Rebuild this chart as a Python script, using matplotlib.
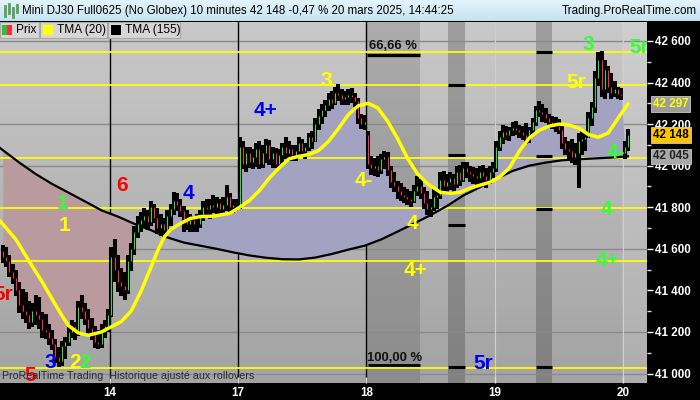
import numpy as np
import matplotlib
matplotlib.use("Agg")
import matplotlib.pyplot as plt
from matplotlib.colors import LinearSegmentedColormap
from matplotlib.patches import Rectangle

# ---------------- data (10-minute bars, 13 -> 20 March 2025) ----------------
highs = [41610, 41600, 41560, 41520, 41490, 41430, 41400, 41385, 41340, 41330, 41370, 41360, 41290, 41280, 41230, 41200, 41160, 41120, 41150, 41170, 41230, 41250, 41240, 41340, 41370, 41330, 41300, 41260, 41220, 41200, 41230, 41250, 41300,
         41600, 41640, 41560, 41500, 41480, 41560, 41620, 41700, 41750, 41770, 41790, 41780, 41820, 41810, 41790, 41760, 41740, 41780, 41810, 41865, 41860, 41830, 41800, 41780, 41760, 41750, 41760, 41780, 41820, 41830, 41830, 41850, 41840, 41830, 41840, 41900, 41860, 41830, 41830,
         42130, 42110, 42080, 42080, 42070, 42100, 42110, 42090, 42120, 42115, 42080, 42075, 42070, 42100, 42130, 42110, 42090, 42090, 42130, 42120, 42100, 42150, 42160, 42220, 42265, 42290, 42310, 42340, 42350, 42370, 42385, 42360, 42350, 42360, 42365, 42340, 42320, 42240, 42235,
         42160, 42040, 42030, 42040, 42050, 42065, 42060, 41990, 41960, 41920, 41910, 41890, 41880, 41870, 41900, 41940, 41930, 41890, 41870, 41830, 41880, 41870, 41960, 41965, 41950, 41960, 41950, 41990, 41995, 42010, 42010, 41990, 41985, 41980, 41990, 41995, 41980, 41990, 42010,
         42110, 42160, 42190, 42185, 42180, 42200, 42205, 42190, 42185, 42195, 42180, 42220, 42280, 42305, 42290, 42270, 42240, 42230, 42225, 42215, 42190, 42130, 42110, 42120, 42100, 42150, 42160, 42150, 42250, 42300, 42450, 42540, 42545, 42500, 42470, 42440, 42400, 42370, 42365,
         42110, 42170]
lows = [41540, 41520, 41470, 41440, 41380, 41300, 41270, 41250, 41220, 41230, 41240, 41220, 41180, 41175, 41145, 41120, 41060, 41040, 41045, 41080, 41140, 41180, 41170, 41190, 41270, 41240, 41200, 41170, 41130, 41125, 41130, 41180, 41210,
        41280, 41450, 41400, 41380, 41360, 41390, 41500, 41580, 41660, 41690, 41710, 41700, 41720, 41730, 41680, 41670, 41660, 41680, 41720, 41770, 41790, 41760, 41690, 41700, 41690, 41690, 41690, 41710, 41740, 41760, 41750, 41780, 41770, 41770, 41780, 41790, 41780, 41780, 41790,
        41800, 41990, 41980, 41995, 41990, 42000, 41990, 41995, 42020, 42010, 41995, 41995, 41995, 42020, 42040, 42030, 42030, 42030, 42050, 42050, 42040, 42080, 42090, 42120, 42180, 42210, 42240, 42270, 42280, 42300, 42320, 42300, 42300, 42300, 42310, 42290, 42210, 42185, 42180,
        41990, 41965, 41960, 41955, 41970, 41990, 41960, 41900, 41880, 41850, 41840, 41830, 41820, 41810, 41830, 41860, 41850, 41800, 41770, 41760, 41790, 41800, 41850, 41880, 41880, 41890, 41880, 41900, 41910, 41930, 41950, 41930, 41920, 41915, 41920, 41920, 41900, 41920, 41950,
        41980, 42080, 42110, 42130, 42125, 42150, 42155, 42140, 42130, 42110, 42115, 42160, 42200, 42240, 42220, 42215, 42190, 42185, 42170, 42160, 42090, 42060, 42040, 42020, 42010, 41900, 42060, 42080, 42140, 42200, 42260, 42390, 42340, 42330, 42360, 42330, 42340, 42330, 42325,
        42040, 42080]
closes = [41560, 41540, 41490, 41460, 41400, 41330, 41300, 41280, 41250, 41300, 41280, 41260, 41210, 41200, 41170, 41140, 41080, 41060, 41130, 41150, 41200, 41230, 41200, 41320, 41300, 41260, 41220, 41190, 41150, 41140, 41200, 41230, 41280,
          41560, 41500, 41440, 41420, 41400, 41540, 41600, 41680, 41720, 41740, 41760, 41730, 41800, 41750, 41700, 41720, 41690, 41760, 41790, 41830, 41810, 41780, 41740, 41720, 41740, 41720, 41720, 41760, 41800, 41790, 41810, 41800, 41820, 41790, 41810, 41850, 41800, 41810, 41810,
          42090, 42010, 42060, 42020, 42040, 42080, 42010, 42060, 42100, 42030, 42060, 42010, 42050, 42090, 42060, 42080, 42050, 42070, 42110, 42070, 42090, 42140, 42120, 42200, 42240, 42270, 42290, 42320, 42300, 42350, 42340, 42320, 42330, 42340, 42330, 42310, 42230, 42200, 42210,
          42010, 41990, 42000, 41980, 42030, 42040, 41980, 41920, 41900, 41880, 41860, 41850, 41840, 41830, 41880, 41900, 41870, 41820, 41790, 41800, 41850, 41860, 41930, 41900, 41920, 41940, 41910, 41970, 41930, 41990, 41970, 41960, 41950, 41940, 41970, 41950, 41930, 41970, 41990,
          42090, 42140, 42160, 42150, 42170, 42180, 42170, 42160, 42150, 42130, 42170, 42210, 42270, 42260, 42250, 42230, 42210, 42200, 42190, 42170, 42110, 42080, 42070, 42040, 42060, 42120, 42130, 42140, 42230, 42280, 42420, 42510, 42370, 42460, 42380, 42350, 42370, 42345, 42340,
          42090, 42148]
first_open = 41590
gap_opens = {111: 42150, 189: 42060}   # session opens with a gap

# TMA (20) read at bar positions
tma20_idx = [-1, 4, 8, 12, 15, 18, 20, 23, 26, 30, 33, 36, 39, 42, 45, 47, 49, 51, 54, 57, 60, 64, 69, 72, 75, 78, 81, 84, 87, 90, 93, 96, 99, 102, 105, 108, 111, 114, 117, 120, 123, 126, 129, 133, 136, 139, 142, 145, 148, 151, 154, 157, 160, 163, 166, 169, 172, 175, 178, 181, 184, 187, 190]
tma20_val = [41737, 41645, 41540, 41440, 41358, 41278, 41230, 41195, 41184, 41200, 41225, 41250, 41300, 41395, 41510, 41588, 41655, 41693, 41722, 41746, 41755, 41757, 41771, 41800, 41833, 41880, 41940, 41990, 42033, 42045, 42054, 42073, 42117, 42178, 42245, 42288, 42300, 42278, 42213, 42130, 42036, 41962, 41914, 41872, 41867, 41872, 41892, 41906, 41920, 41945, 41990, 42070, 42133, 42170, 42190, 42200, 42196, 42181, 42150, 42137, 42157, 42228, 42297]
# TMA (155) read every 5 bars
tma155_idx = [-1] + list(range(0, 191, 5))
tma155_val = [42087, 42075, 42015, 41960, 41912, 41870, 41828, 41785, 41755, 41720, 41690, 41655, 41630, 41615, 41600, 41583, 41568, 41557, 41550, 41549, 41558, 41575, 41596, 41615, 41645, 41683, 41722, 41762, 41806, 41857, 41896, 41937, 41975, 42000, 42015, 42026, 42031, 42035, 42039, 42045]

# horizontal retracement levels (yellow)
levels = [42546, 42387, 42039, 41794, 41540, 41027]
grid_levels = [42600, 42200, 42000, 41600, 41200, 41000]
day_labels = ["14", "17", "18", "19", "20"]
day_pos = [32.5, 71.5, 110.5, 149.5, 188.5]

# wave labels: (text, bar position, price, colour)
wave_labels = [
    ("5r", 0.0, 41381, "#ff0000"), ("5", 8.3, 40990, "#ff0000"), ("3", 14.3, 41053, "#0000ff"),
    ("2", 21.9, 41053, "#ffff00"), ("2", 25.0, 41053, "#33ff33"), ("1", 18.0, 41819, "#33ff33"),
    ("1", 18.9, 41713, "#ffff00"), ("6", 36.2, 41906, "#ff0000"), ("4", 56.3, 41867, "#0000ff"),
    ("4+", 80.0, 42267, "#0000ff"), ("3", 98.2, 42412, "#ffff00"), ("4-", 109.8, 41930, "#ffff00"),
    ("4", 124.4, 41723, "#ffff00"), ("4+", 125.6, 41496, "#ffff00"), ("5r", 145.9, 41048, "#0000ff"),
    ("3", 177.9, 42581, "#33ff33"), ("5r", 174.2, 42402, "#ffff00"), ("4-", 186.4, 42065, "#33ff33"),
    ("4", 183.6, 41790, "#33ff33"), ("4+", 183.9, 41545, "#33ff33"),
]

# --------------------------- geometry ---------------------------
W, H = 700, 400
XMIN, XMAX = -0.851, 195.8
YMIN, YMAX = 40954.3, 42691.4

n = len(closes)
idx = np.arange(n)
opens = [first_open] + closes[:-1]
for k, v in gap_opens.items():
    opens[k] = v
opens = np.array(opens, float)
highs = np.array(highs, float)
lows = np.array(lows, float)
closes_a = np.array(closes, float)

fig = plt.figure(figsize=(7, 4), dpi=100, facecolor="black")
ax = fig.add_axes([0, 17 / H, 647 / W, 361 / H])
ax.set_xlim(XMIN, XMAX)
ax.set_ylim(YMIN, YMAX)

# background gradient
grad = np.linspace(0, 1, 256).reshape(-1, 1)
bg = LinearSegmentedColormap.from_list("bg", ["#a3a3a3", "#c9c9c9"])
ax.imshow(grad, extent=[XMIN, XMAX, YMIN, YMAX], origin="lower", aspect="auto", cmap=bg, zorder=0)

def px2i(x):
    return (x - 2.8) / 3.29

# shaded time zones
ax.axvspan(px2i(367), px2i(420), color="black", alpha=0.14, lw=0, zorder=0.5)
ax.axvspan(px2i(448), px2i(465), color="black", alpha=0.21, lw=0, zorder=0.5)
ax.axvspan(px2i(536), px2i(552), color="black", alpha=0.21, lw=0, zorder=0.5)
ax.axvspan(px2i(622), XMAX, color="white", alpha=0.12, lw=0, zorder=0.5)

for g in grid_levels:
    ax.axhline(g, color="#8a8a8a", lw=1.0, zorder=0.8)
for d in day_pos[3:]:
    ax.axvline(d, color="#cfcfcf", lw=0.8, zorder=0.8)
for d in day_pos[:3]:
    ax.axvline(d, color="black", lw=1.0, zorder=0.9)

# fill between price and TMA155
t155 = np.interp(idx, tma155_idx, tma155_val)
ax.fill_between(idx, closes_a, t155, where=closes_a <= t155, interpolate=True,
                color="#b99a9f", lw=0, zorder=1)
ax.fill_between(idx, closes_a, t155, where=closes_a >= t155, interpolate=True,
                color="#a3a3c1", lw=0, zorder=1)

for lv in levels:
    ax.axhline(lv, color="#ffff00", lw=1.3, zorder=1.5)

# markers in time zones
for p in [42387, 42051, 41713, 41030]:
    ax.plot([px2i(448), px2i(465)], [p, p], color="black", lw=2.2, zorder=1.6, solid_capstyle="butt")
for p in [42546, 42046, 41790, 41030]:
    ax.plot([px2i(536), px2i(552)], [p, p], color="black", lw=2.2, zorder=1.6, solid_capstyle="butt")
ax.plot([px2i(367), px2i(420)], [42535, 42535], color="black", lw=2.4, zorder=1.6, solid_capstyle="butt")
ax.plot([px2i(368), px2i(420)], [41040, 41040], color="black", lw=2.0, zorder=1.6, solid_capstyle="butt")
ax.text(px2i(369), 42578, "66,66 %", fontsize=9.4, fontweight="bold", color="#111111",
        family="Liberation Sans", ha="left", va="center", zorder=3)
ax.text(px2i(367), 41077, "100,00 %", fontsize=9.4, fontweight="bold", color="#111111",
        family="Liberation Sans", ha="left", va="center", zorder=3)

# TMA lines
ax.plot(tma155_idx, tma155_val, color="black", lw=1.6, zorder=2)
ax.plot(tma20_idx, tma20_val, color="#ffff00", lw=2.5, zorder=4, solid_capstyle="round")

# candles (thick black outline with a thin coloured body)
ax.vlines(idx, lows - 8, highs + 8, color="black", lw=2.9, zorder=3)
up = closes_a >= opens
ax.vlines(idx[up], opens[up], closes_a[up], color="#33dd33", lw=0.8, zorder=3.5)
ax.vlines(idx[~up], closes_a[~up], opens[~up], color="#ff2a55", lw=0.8, zorder=3.5)

for txt, xi, p, c in wave_labels:
    ax.text(xi, p, txt, color=c, fontsize=15, fontweight="bold", family="Liberation Sans",
            ha="center", va="center", zorder=5, clip_on=True)
ax.text(px2i(629), 42570, "5r", color="#33ff33", fontsize=15, fontweight="bold",
        family="Liberation Sans", ha="left", va="center", zorder=5, clip_on=True)

ax.text(px2i(2), 41000 - 13, "ProRealTime Trading  Historique ajusté aux rollovers", fontsize=7.7,
        color="#2a2a2a", family="Liberation Sans", ha="left", va="center", zorder=6)

# axes styling
for s in ax.spines.values():
    s.set_visible(False)
ax.yaxis.tick_right()
ax.set_yticks(range(41000, 42601, 200))
ax.set_yticklabels([f"{v // 1000} {v % 1000:03d}" for v in range(41000, 42601, 200)])
ax.set_yticks(range(41000, 42601, 100), minor=True)
ax.tick_params(axis="y", which="major", colors="white", length=4, width=1, pad=2, labelsize=8.4)
ax.tick_params(axis="y", which="minor", colors="#dddddd", length=3, width=1)
ax.set_xticks(day_pos)
ax.set_xticklabels(day_labels)
ax.tick_params(axis="x", colors="#dddddd", direction="in", length=4, width=1, pad=3, labelsize=8.4)
for lab in ax.get_yticklabels() + ax.get_xticklabels():
    lab.set_fontweight("bold")
    lab.set_family("Liberation Sans")
    lab.set_color("white")

# value tags on the price axis
tags = [(42297, "42 297", "#ffff00", "#9c9c9c"), (42148, "42 148", "black", "#ffc400"), (42045, "42 045", "#222222", "#a8a8a8")]
trans = ax.get_yaxis_transform()
for p, s, fc, bc in tags:
    ax.text(1.0 + 6 / 647, p, s, transform=trans, color=fc, fontsize=8.4, fontweight="bold",
            family="Liberation Sans", ha="left", va="center", zorder=10, clip_on=False,
            bbox=dict(boxstyle="square,pad=0.15", fc=bc, ec="#c8c8c8", lw=0.6))

# title bar
tb = fig.add_axes([0, 1 - 21 / H, 1, 21 / H])
tb.set_xlim(0, W); tb.set_ylim(21, 0)
tcm = LinearSegmentedColormap.from_list("tb", ["#e4f3fb", "#c6e4f2"])
tb.imshow(np.linspace(0, 1, 64).reshape(-1, 1), extent=[0, W, 21, 0], aspect="auto", cmap=tcm, origin="upper")
tb.axhline(20.5, color="#9ab8c8", lw=1)
tb.axis("off")
for xx, y0, y1 in [(5, 6, 16), (9, 4, 13), (13, 8, 17), (17, 5, 12)]:
    tb.plot([xx, xx], [y0, y1], color="#5aa05a", lw=2)
tb.text(22, 11, "Mini DJ30 Full0625 (No Globex) 10 minutes 42 148 -0,47 % 20 mars 2025, 14:44:25",
        fontsize=8.3, family="Liberation Sans", color="black", ha="left", va="center")
tb.text(697, 11, "Trading.ProRealTime.com", fontsize=8.4, family="Liberation Sans", color="black",
        ha="right", va="center")

# legend boxes
def fx(x):
    return x / W
def fy(y):
    return 1 - y / H
for x0, x1 in [(0, 39), (40, 107), (108, 180)]:
    fig.patches.append(Rectangle((fx(x0), fy(38)), fx(x1 - x0), 16 / H, transform=fig.transFigure,
                                 fc="#d6d6d6", ec="#a8a8a8", lw=0.8, zorder=20))
fig.patches.append(Rectangle((fx(2), fy(35)), fx(5), 10 / H, transform=fig.transFigure, fc="#30c030", ec="none", zorder=21))
fig.patches.append(Rectangle((fx(7), fy(35)), fx(5), 10 / H, transform=fig.transFigure, fc="#ff2a40", ec="none", zorder=21))
fig.patches.append(Rectangle((fx(43), fy(35)), fx(10), 10 / H, transform=fig.transFigure, fc="#ffff00", ec="none", zorder=21))
fig.patches.append(Rectangle((fx(111), fy(35)), fx(10), 10 / H, transform=fig.transFigure, fc="black", ec="none", zorder=21))
for x, s in [(16, "Prix"), (57, "TMA (20)"), (125, "TMA (155)")]:
    fig.text(fx(x), fy(30), s, fontsize=8.6, family="Liberation Sans", color="black",
             ha="left", va="center", zorder=22)

fig.savefig("out.png", dpi=100, facecolor="black")
